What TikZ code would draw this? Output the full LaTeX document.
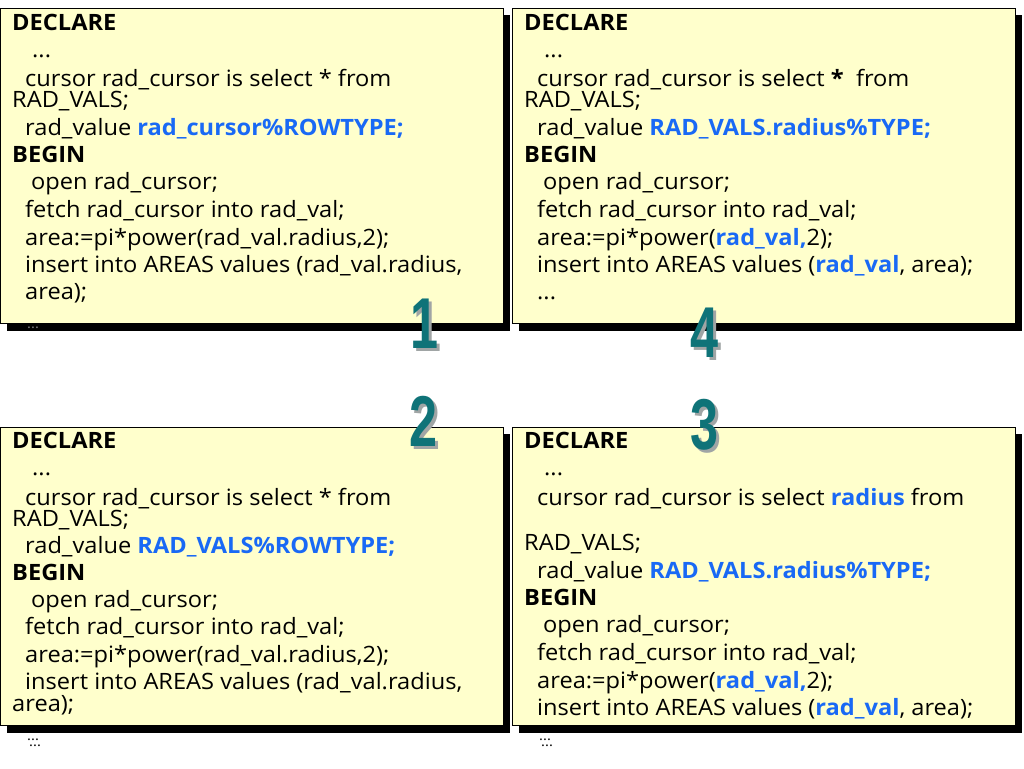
\documentclass[tikz,border=0pt]{standalone}
\usepackage{fontspec}
\setmainfont{Open Sans}[FakeStretch=1.05]
\newfontfamily\digitfont{Liberation Sans}
\definecolor{boxfill}{RGB}{255,255,204}
\definecolor{codeblue}{RGB}{25,105,245}
\definecolor{tealdig}{RGB}{15,115,120}
\definecolor{digshade}{RGB}{160,165,165}
\newcommand{\hl}[1]{\textcolor{codeblue}{\bfseries #1}}
\tikzset{
  panel/.style={draw=black, line width=0.9pt, fill=boxfill},
  panelshadow/.style={fill=black},
  ln/.style={anchor=base west, inner sep=0pt, font=\fontsize{22.5}{23}\selectfont},
  kw/.style={ln, font=\fontsize{22.5}{23}\selectfont\bfseries},
  dots/.style={anchor=base west, inner sep=0pt, font=\fontsize{14}{14}\selectfont},
  dig/.style={inner sep=0pt, font=\digitfont\bfseries\fontsize{72}{72}\selectfont, text=tealdig, xscale=0.7},
  digsh/.style={dig, text=digshade}
}
\begin{document}
\begin{tikzpicture}[x=1pt,y=-1pt]
\useasboundingbox[fill=white] (0,0) rectangle (1024,768);

% ---------- panels ----------
\fill[panelshadow] (7,15) rectangle (510,331);
\draw[panel] (0.5,8) rectangle (503,323);
\fill[panelshadow] (519,15) rectangle (1022,331);
\draw[panel] (512,8) rectangle (1015,323);
\fill[panelshadow] (7,434) rectangle (510,733);
\draw[panel] (0.5,427) rectangle (503,725);
\fill[panelshadow] (519,434) rectangle (1022,733);
\draw[panel] (512,427) rectangle (1015,725);

% ---------- panel 1 (top left) ----------
\node[kw] (a1) at (12,31) {DECLARE};
\node[ln] (a2) at (32,57) {...};
\node[ln] (a3) at (25,86) {cursor rad\_cursor is select * from};
\node[ln] (a4) at (12,107) {RAD\_VALS;};
\node[ln] (a5) at (25,135) {rad\_value \hl{rad\_cursor\%ROWTYPE;}};
\node[kw] (a6) at (12,162) {BEGIN};
\node[ln] (a7) at (31,189) {open rad\_cursor;};
\node[ln] (a8) at (25,217) {fetch rad\_cursor into rad\_val;};
\node[ln] (a9) at (25,245) {area:=pi*power(rad\_val.radius,2);};
\node[ln] (a10) at (25,272) {insert into AREAS values (rad\_val.radius,};
\node[ln] (a11) at (25,299) {area);};
\node[dots, text=gray] (a12) at (27,328) {...};

% ---------- panel 4 (top right) ----------
\node[kw] (b1) at (524,31) {DECLARE};
\node[ln] (b2) at (544,57) {...};
\node[ln] (b3) at (537,86) {cursor rad\_cursor is select \textbf{*} \ from};
\node[ln] (b4) at (524,107) {RAD\_VALS;};
\node[ln] (b5) at (537,135) {rad\_value \hl{RAD\_VALS.radius\%TYPE;}};
\node[kw] (b6) at (524,162) {BEGIN};
\node[ln] (b7) at (543,189) {open rad\_cursor;};
\node[ln] (b8) at (537,217) {fetch rad\_cursor into rad\_val;};
\node[ln] (b9) at (537,245) {area:=pi*power(\hl{rad\_val,}2);};
\node[ln] (b10) at (537,272) {insert into AREAS values (\hl{rad\_val}, area);};
\node[ln] (b11) at (537,299) {...};

% ---------- panel 2 (bottom left) ----------
\node[kw] (c1) at (12,448) {DECLARE};
\node[ln] (c2) at (32,475) {...};
\node[ln] (c3) at (25,505) {cursor rad\_cursor is select * from};
\node[ln] (c4) at (12,526) {RAD\_VALS;};
\node[ln] (c5) at (25,553) {rad\_value \hl{RAD\_VALS\%ROWTYPE;}};
\node[kw] (c6) at (12,580) {BEGIN};
\node[ln] (c7) at (31,607) {open rad\_cursor;};
\node[ln] (c8) at (25,634) {fetch rad\_cursor into rad\_val;};
\node[ln] (c9) at (25,662) {area:=pi*power(rad\_val.radius,2);};
\node[ln] (c10) at (25,689) {insert into AREAS values (rad\_val.radius,};
\node[ln] (c11) at (12,711) {area);};
\node[dots] (c12) at (27,740) {...};
\node[dots] (c13) at (29,746) {...};

% ---------- panel 3 (bottom right) ----------
\node[kw] (d1) at (524,448) {DECLARE};
\node[ln] (d2) at (544,475) {...};
\node[ln] (d3) at (537,505) {cursor rad\_cursor is select \hl{radius} from};
\node[ln] (d4) at (524,550) {RAD\_VALS;};
\node[ln] (d5) at (537,578) {rad\_value \hl{RAD\_VALS.radius\%TYPE;}};
\node[kw] (d6) at (524,605) {BEGIN};
\node[ln] (d7) at (543,632) {open rad\_cursor;};
\node[ln] (d8) at (537,660) {fetch rad\_cursor into rad\_val;};
\node[ln] (d9) at (537,688) {area:=pi*power(\hl{rad\_val,}2);};
\node[ln] (d10) at (537,715) {insert into AREAS values (\hl{rad\_val}, area);};
\node[dots] (d11) at (539,740) {...};
\node[dots] (d12) at (541,746) {...};

% ---------- step numbers ----------
\node[digsh] (n1s) at (428,327) {1};
\node[dig] (n1) at (425,324) {1};
\node[digsh] (n4s) at (708,336) {4};
\node[dig] (n4) at (705,333) {4};
\node[digsh] (n2s) at (427,424) {2};
\node[dig] (n2) at (424,421) {2};
\node[digsh] (n3s) at (708,428) {3};
\node[dig] (n3) at (705,425) {3};
\end{tikzpicture}
\end{document}
